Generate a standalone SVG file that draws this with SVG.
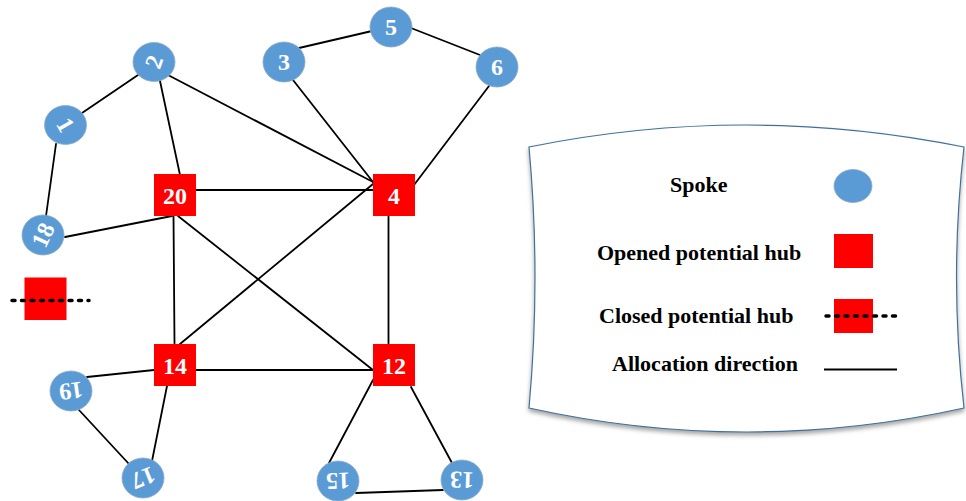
<svg xmlns="http://www.w3.org/2000/svg" width="966" height="501" viewBox="0 0 966 501">
  <style>
    .edge { stroke: #000; stroke-width: 1.8; fill: none; stroke-linecap: round; }
    .spoke { fill: #5B9BD5; stroke: #8fa9c4; stroke-width: 0.8; }
    .hub { fill: #FF0000; }
    .lbl { font-family: "Liberation Serif", "Times New Roman", serif; font-weight: bold; font-size: 24px; fill: #fff; text-anchor: middle; }
    .legend-text { font-family: "Liberation Serif", "Times New Roman", serif; font-weight: bold; font-size: 22px; fill: #000; }
    .closed-line { stroke: #000; stroke-width: 3.5; stroke-dasharray: 3 6.5; stroke-linecap: round; fill: none; }
  </style>
  <defs>
    <filter id="shadow" x="-5%" y="-5%" width="110%" height="115%">
      <feDropShadow dx="0" dy="3" stdDeviation="2" flood-color="#808080" flood-opacity="0.7"/>
    </filter>
  </defs>

  <rect width="966" height="501" fill="#fff"/>

  <!-- connectors -->
  <g id="edges">
    <line class="edge" x1="82" y1="113" x2="138" y2="75"/>
    <line class="edge" x1="56" y1="144" x2="46" y2="216"/>
    <line class="edge" x1="160" y1="81" x2="180" y2="175"/>
    <line class="edge" x1="168" y1="75" x2="373" y2="182"/>
    <line class="edge" x1="293" y1="80" x2="373" y2="182"/>
    <line class="edge" x1="299" y1="48" x2="372" y2="31"/>
    <line class="edge" x1="411" y1="28" x2="480" y2="55"/>
    <line class="edge" x1="489" y1="86" x2="414" y2="185"/>
    <line class="edge" x1="196" y1="190" x2="373" y2="190"/>
    <line class="edge" x1="172" y1="216" x2="65" y2="237"/>
    <line class="edge" x1="173.5" y1="216" x2="174.5" y2="344"/>
    <line class="edge" x1="178" y1="216" x2="373" y2="370"/>
    <line class="edge" x1="373" y1="184" x2="180" y2="344"/>
    <line class="edge" x1="388.5" y1="216" x2="388.5" y2="344"/>
    <line class="edge" x1="196" y1="370" x2="373" y2="370"/>
    <line class="edge" x1="154" y1="370" x2="87" y2="377"/>
    <line class="edge" x1="167" y1="386" x2="152" y2="461"/>
    <line class="edge" x1="79" y1="410" x2="129" y2="464"/>
    <line class="edge" x1="373" y1="380" x2="329" y2="463"/>
    <line class="edge" x1="411" y1="387" x2="452" y2="463"/>
    <line class="edge" x1="356" y1="493" x2="443" y2="490"/>
  </g>

  <!-- spokes -->
  <g id="node-1" transform="translate(65.5,125)">
    <ellipse class="spoke" rx="21" ry="19.5"/>
    <text class="lbl" transform="rotate(60)" y="8">1</text>
  </g>
  <g id="node-2" transform="translate(154,62)">
    <ellipse class="spoke" rx="21" ry="19.5"/>
    <text class="lbl" transform="rotate(-70)" y="8">2</text>
  </g>
  <g id="node-3" transform="translate(284,62)">
    <ellipse class="spoke" rx="21" ry="20"/>
    <text class="lbl" y="8">3</text>
  </g>
  <g id="node-5" transform="translate(391,27)">
    <ellipse class="spoke" rx="21" ry="20"/>
    <text class="lbl" y="8">5</text>
  </g>
  <g id="node-6" transform="translate(497,67)">
    <ellipse class="spoke" rx="21" ry="20"/>
    <text class="lbl" y="8">6</text>
  </g>
  <g id="node-18" transform="translate(43,235)">
    <ellipse class="spoke" rx="21" ry="20"/>
    <text class="lbl" transform="rotate(-65)" y="8">18</text>
  </g>
  <g id="node-19" transform="translate(71,391)">
    <ellipse class="spoke" rx="21" ry="20"/>
    <text class="lbl" transform="rotate(172)" y="8">19</text>
  </g>
  <g id="node-17" transform="translate(143,478)">
    <ellipse class="spoke" rx="21" ry="20"/>
    <text class="lbl" transform="rotate(158)" y="8">17</text>
  </g>
  <g id="node-15" transform="translate(338,481)">
    <ellipse class="spoke" rx="21" ry="20"/>
    <text class="lbl" transform="rotate(178)" y="8">15</text>
  </g>
  <g id="node-13" transform="translate(462,480)">
    <ellipse class="spoke" rx="21" ry="20"/>
    <text class="lbl" transform="rotate(182)" y="8">13</text>
  </g>

  <!-- opened hubs -->
  <g id="hub-20">
    <rect class="hub" x="154" y="174" width="42" height="42"/>
    <text class="lbl" x="175" y="203.5">20</text>
  </g>
  <g id="hub-4">
    <rect class="hub" x="373" y="174" width="42" height="42"/>
    <text class="lbl" x="394" y="203.5">4</text>
  </g>
  <g id="hub-14">
    <rect class="hub" x="154" y="344" width="42" height="42"/>
    <text class="lbl" x="175" y="373.5">14</text>
  </g>
  <g id="hub-12">
    <rect class="hub" x="373" y="344" width="42" height="42"/>
    <text class="lbl" x="394" y="373.5">12</text>
  </g>

  <!-- closed hub -->
  <g id="hub-closed">
    <rect class="hub" x="24.5" y="277.5" width="42" height="42.5"/>
    <line class="closed-line" x1="12" y1="300.5" x2="89" y2="300.5"/>
  </g>

  <!-- legend -->
  <g id="legend">
    <path d="M529,147 Q746,103 964,147 Q949,277 964,408 Q746,456 529,408 Q541,277 529,147 Z"
          fill="#fff" stroke="#41719C" stroke-width="1.2" filter="url(#shadow)"/>
    <text class="legend-text" x="670" y="192">Spoke</text>
    <ellipse class="spoke" cx="853" cy="186" rx="19" ry="16.5"/>
    <text class="legend-text" x="597" y="260">Opened potential hub</text>
    <rect class="hub" x="834" y="234" width="39" height="34"/>
    <text class="legend-text" x="599" y="322.5">Closed potential hub</text>
    <rect class="hub" x="834" y="299" width="39" height="34"/>
    <line class="closed-line" x1="826" y1="316" x2="896" y2="316"/>
    <text class="legend-text" x="612" y="370.5">Allocation direction</text>
    <line x1="824" y1="369.5" x2="897" y2="369.5" stroke="#000" stroke-width="1.8"/>
  </g>
</svg>
